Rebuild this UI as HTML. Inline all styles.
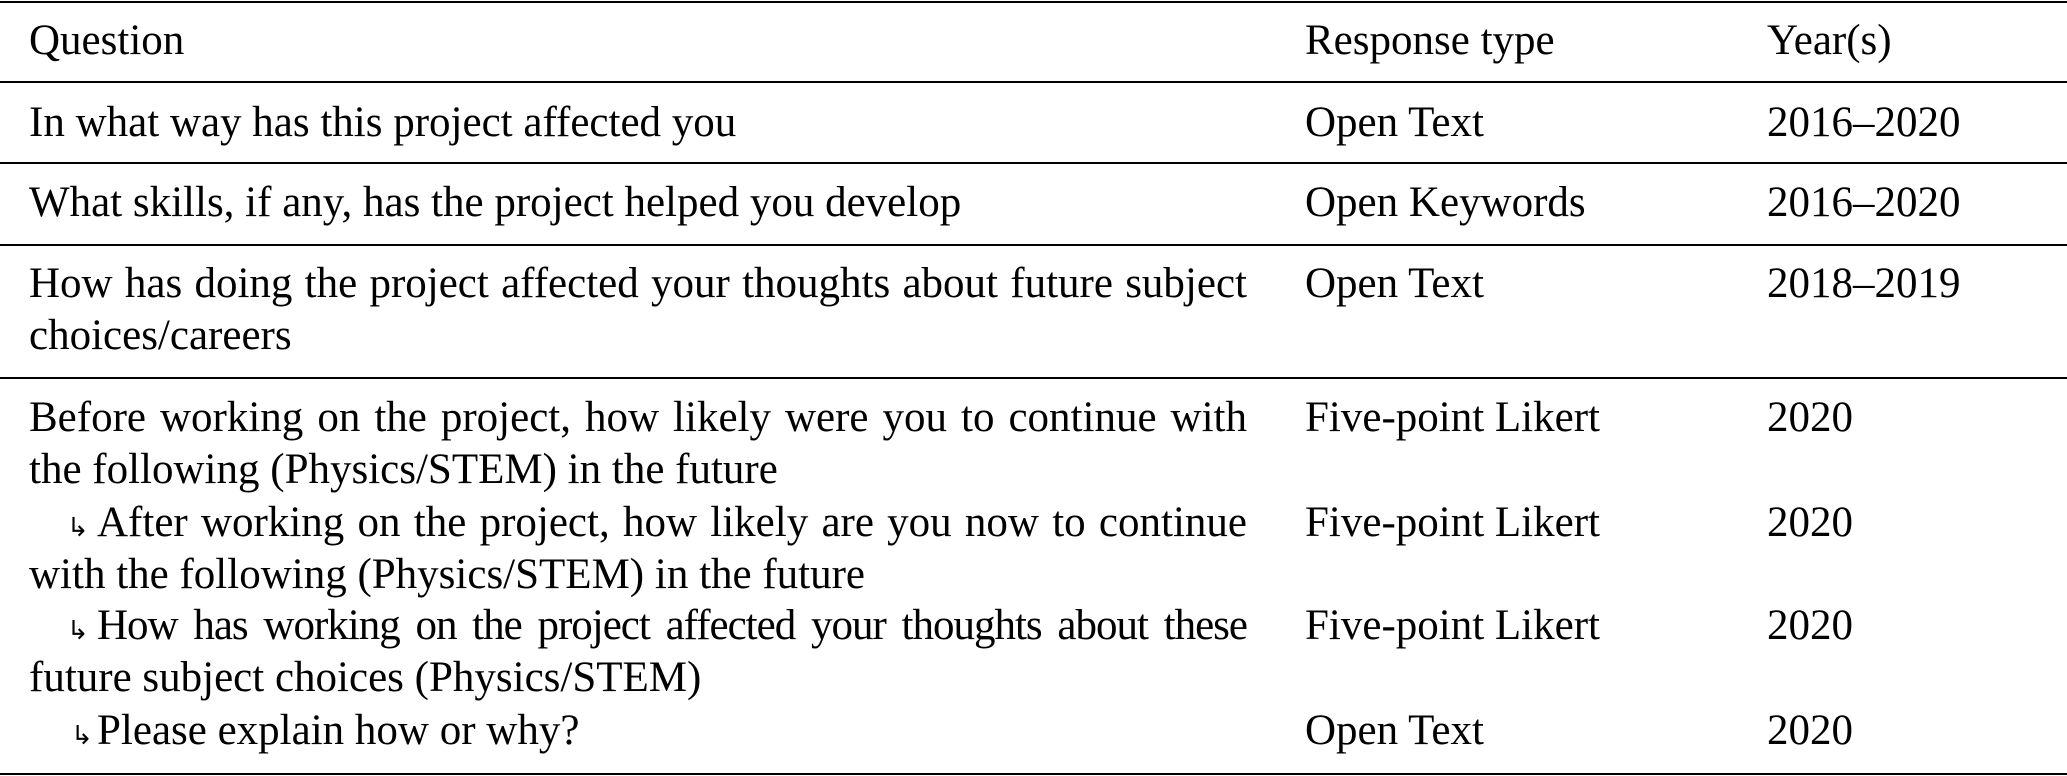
<!DOCTYPE html>
<html><head><meta charset="utf-8"><style>
html,body{margin:0;padding:0;background:#fff;}
body{width:2067px;height:776px;position:relative;overflow:hidden;font-family:"Liberation Serif",serif;font-size:43px;color:#000;}
.h{position:absolute;left:0;width:2067px;height:2px;background:#000;}
.t{position:absolute;line-height:52px;white-space:nowrap;}
.j{text-align:justify;text-align-last:justify;width:1218px;white-space:normal;}
.a{font-size:26px;display:inline-block;width:30px;text-align:center;letter-spacing:0;}
</style></head><body>
<div class="h" style="top:1px"></div>
<div class="h" style="top:81px"></div>
<div class="h" style="top:162px"></div>
<div class="h" style="top:244px"></div>
<div class="h" style="top:377px"></div>
<div class="h" style="top:773px"></div>

<div class="t" style="left:29px;top:15px">Question</div>
<div class="t" style="left:1305px;top:15px">Response type</div>
<div class="t" style="left:1767px;top:15px">Year(s)</div>

<div class="t" style="left:29px;top:97px">In what way has this project affected you</div>
<div class="t" style="left:1305px;top:97px">Open Text</div>
<div class="t" style="left:1767px;top:97px">2016–2020</div>

<div class="t" style="left:29px;top:177px">What skills, if any, has the project helped you develop</div>
<div class="t" style="left:1305px;top:177px">Open Keywords</div>
<div class="t" style="left:1767px;top:177px">2016–2020</div>

<div class="t j" style="left:29px;top:258px">How has doing the project affected your thoughts about future subject</div>
<div class="t" style="left:29px;top:310px">choices/careers</div>
<div class="t" style="left:1305px;top:258px">Open Text</div>
<div class="t" style="left:1767px;top:258px">2018–2019</div>

<div class="t j" style="left:29px;top:392px">Before working on the project, how likely were you to continue with</div>
<div class="t" style="left:29px;top:444px">the following (Physics/STEM) in the future</div>
<div class="t" style="left:1305px;top:392px">Five-point Likert</div>
<div class="t" style="left:1767px;top:392px">2020</div>

<div class="t j" style="left:29px;top:497px"><span class="a" style="margin-left:38px">↳</span>After working on the project, how likely are you now to continue</div>
<div class="t" style="left:29px;top:549px">with the following (Physics/STEM) in the future</div>
<div class="t" style="left:1305px;top:497px">Five-point Likert</div>
<div class="t" style="left:1767px;top:497px">2020</div>

<div class="t j" style="left:29px;top:600px;letter-spacing:-1px"><span class="a" style="margin-left:38px">↳</span>How has working on the project affected your thoughts about these</div>
<div class="t" style="left:29px;top:652px">future subject choices (Physics/STEM)</div>
<div class="t" style="left:1305px;top:600px">Five-point Likert</div>
<div class="t" style="left:1767px;top:600px">2020</div>

<div class="t" style="left:29px;top:705px"><span class="a" style="margin-left:38px">↳</span>Please explain how or why?</div>
<div class="t" style="left:1305px;top:705px">Open Text</div>
<div class="t" style="left:1767px;top:705px">2020</div>
</body></html>
